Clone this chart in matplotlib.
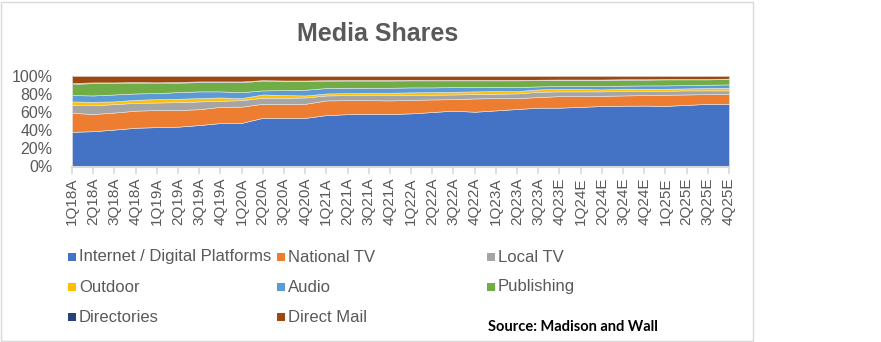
import matplotlib
matplotlib.use("Agg")
import matplotlib.pyplot as plt
from matplotlib.patches import Rectangle
import numpy as np

plt.rcParams['font.family'] = ['Liberation Sans', 'DejaVu Sans']

quarters = ["1Q18A", "2Q18A", "3Q18A", "4Q18A", "1Q19A", "2Q19A", "3Q19A", "4Q19A",
            "1Q20A", "2Q20A", "3Q20A", "4Q20A", "1Q21A", "2Q21A", "3Q21A", "4Q21A",
            "1Q22A", "2Q22A", "3Q22A", "4Q22A", "1Q23A", "2Q23A", "3Q23A", "4Q23E",
            "1Q24E", "2Q24E", "3Q24E", "4Q24E", "1Q25E", "2Q25E", "3Q25E", "4Q25E"]

internet = [38.3, 39.0, 40.8, 42.8, 43.5, 44.0, 45.8, 48.0, 48.0, 53.8, 53.7, 53.7,
            56.8, 57.8, 58.3, 58.0, 58.7, 60.2, 61.7, 60.5, 62.0, 63.5, 65.0, 65.0,
            65.9, 66.8, 67.2, 67.3, 67.0, 68.0, 69.3, 69.2]
national_tv = [21.0, 19.0, 18.8, 18.9, 18.9, 18.4, 17.5, 17.9, 17.9, 15.5, 15.4, 15.6,
               16.2, 15.5, 15.0, 15.0, 15.0, 13.9, 12.7, 14.7, 13.6, 12.1, 11.7, 12.8,
               11.9, 11.3, 11.3, 11.6, 12.3, 11.6, 10.7, 11.2]
local_tv = [8.5, 9.8, 9.3, 8.7, 8.3, 8.7, 8.6, 6.7, 7.1, 6.6, 6.8, 7.0,
            5.5, 5.6, 6.0, 6.3, 5.6, 5.2, 5.2, 4.8, 4.8, 5.2, 5.9, 5.2,
            5.2, 4.9, 5.2, 4.8, 4.4, 4.5, 4.1, 3.7]
outdoor = [4.1, 3.7, 3.0, 3.3, 3.7, 3.7, 3.7, 3.7, 2.2, 3.7, 3.0, 2.2,
           2.2, 2.2, 2.2, 2.2, 2.6, 2.9, 3.0, 3.0, 2.9, 2.5, 2.6, 2.6,
           2.6, 2.2, 2.2, 2.2, 2.2, 2.2, 2.6, 2.9]
audio = [7.0, 7.0, 7.7, 7.0, 6.7, 7.4, 7.4, 6.7, 6.6, 4.5, 5.5, 6.3,
         6.0, 5.9, 5.5, 5.5, 5.5, 5.2, 5.2, 4.8, 4.8, 4.5, 3.3, 3.3,
         3.3, 3.7, 3.4, 3.7, 3.7, 3.7, 3.7, 3.7]
publishing = [12.2, 13.7, 12.6, 11.9, 11.1, 10.4, 10.3, 10.3, 11.1, 10.7, 10.0, 9.6,
              8.1, 8.0, 8.0, 8.0, 7.8, 7.8, 7.4, 7.4, 7.1, 7.4, 6.9, 6.7,
              6.7, 6.7, 6.6, 6.3, 6.7, 6.3, 5.9, 6.0]
directories = [1.2, 0.7, 0.7, 0.7, 0.8, 0.8, 0.7, 0.7, 0.7, 0.6, 0.6, 0.6,
               0.6, 0.6, 0.6, 0.6, 0.6, 0.5, 0.5, 0.5, 0.5, 0.5, 0.5, 0.5,
               0.5, 0.5, 0.5, 0.5, 0.4, 0.4, 0.4, 0.4]
direct_mail = [7.7, 7.1, 7.1, 6.7, 7.0, 6.6, 6.0, 6.0, 6.0, 4.6, 5.0, 5.0,
               4.6, 4.4, 4.4, 4.4, 4.2, 4.3, 4.3, 4.3, 4.3, 4.3, 4.1, 3.9,
               3.9, 3.9, 3.6, 3.6, 3.3, 3.3, 3.3, 2.9]

series_names = ["Internet / Digital Platforms", "National TV", "Local TV", "Outdoor",
                "Audio", "Publishing", "Directories", "Direct Mail"]
series_colors = ["#4472C4", "#ED7D31", "#A5A5A5", "#FFC000",
                 "#5B9BD5", "#70AD47", "#264478", "#9E480E"]

data = np.array([internet, national_tv, local_tv, outdoor, audio,
                 publishing, directories, direct_mail], dtype=float)
shares = data / data.sum(axis=0) * 100.0
x = np.arange(len(quarters))

W, H = 881, 342
fig = plt.figure(figsize=(W / 100, H / 100), dpi=100)

# chart frame
fig.patches.append(Rectangle((1 / W, 1 / H), 752 / W, 339 / H, transform=fig.transFigure,
                             fill=False, edgecolor="#D9D9D9", linewidth=1.0))

ax = fig.add_axes([72 / W, (H - 166.5) / H, 657 / W, 90.5 / H])
ax.stackplot(x, shares, colors=series_colors, linewidth=0.4, edgecolor="#E6E6E6")
ax.axhline(100, color="#D9D9D9", linewidth=1.0, zorder=0.5)

ax.set_xlim(0, len(quarters) - 1)
ax.set_ylim(0, 100)
ax.set_yticks(np.arange(0, 101, 20))
ax.set_yticklabels([f"{v}%" for v in range(0, 101, 20)])
ax.set_xticks(x)
ax.set_xticklabels(quarters, rotation=90)

for s in ["top", "right", "left"]:
    ax.spines[s].set_visible(False)
ax.spines["bottom"].set_color("#D9D9D9")
ax.spines["bottom"].set_linewidth(1.5)
ax.tick_params(axis="x", length=5, width=1.2, color="#D9D9D9", labelsize=11,
               labelcolor="#595959", pad=3)
ax.tick_params(axis="y", length=0, labelsize=11.5, labelcolor="#595959", pad=14)

fig.text(378 / W, 1 - 34 / H, "Media Shares", ha="center", va="center",
         fontsize=18, fontweight="bold", color="#595959")

# legend entries in three columns
col_x = [68, 277, 487]
row_y = [257, 287, 317]
for k, (name, color) in enumerate(zip(series_names, series_colors)):
    r, c = divmod(k, 3)
    mx, my = col_x[c], row_y[r]
    fig.patches.append(Rectangle((mx / W, (H - my - 4) / H), 8 / W, 8 / H,
                                 transform=fig.transFigure, facecolor=color,
                                 edgecolor="none"))
    fig.text((mx + 11) / W, 1 - my / H, name, ha="left", va="center",
             fontsize=12, color="#595959")

fig.text(488 / W, 1 - 327 / H, "Source: Madison and Wall", ha="left", va="center",
         fontsize=10.5, fontweight="bold", color="black", family=["Lato", "DejaVu Sans"])

fig.savefig("out.png", dpi=100)
